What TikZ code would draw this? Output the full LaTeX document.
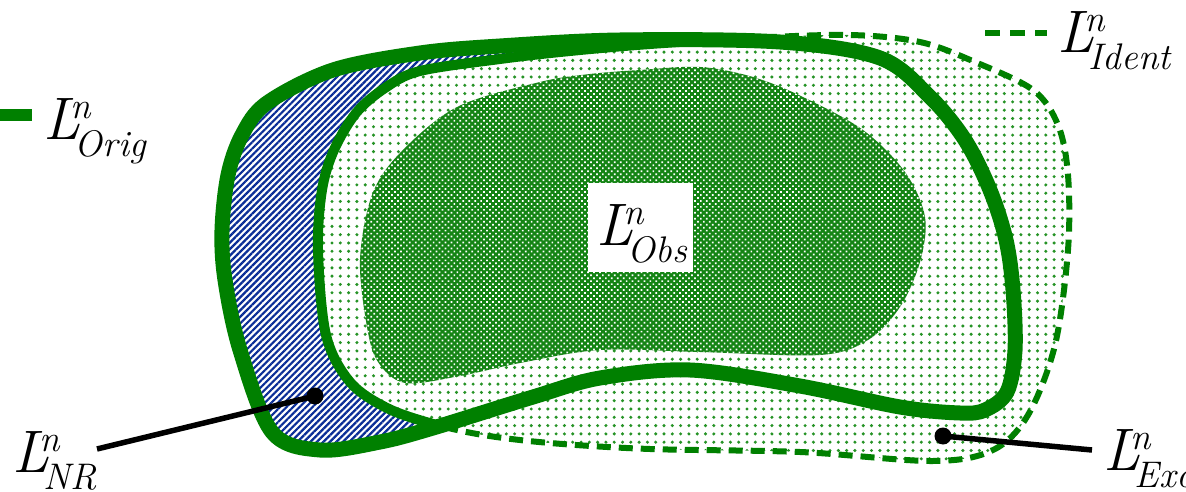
\documentclass[tikz,border=0pt]{standalone}
\usetikzlibrary{patterns.meta}
\definecolor{dgreen}{RGB}{0,128,0}
\definecolor{hblue}{RGB}{10,45,150}
\definecolor{obsgreen}{RGB}{20,132,20}
\newcommand\Lsym[1]{{\fontsize{60}{60}\selectfont\itshape L\kern-5pt\rlap{\hspace{-4pt}\raisebox{21pt}{\fontsize{37}{37}\selectfont n}}\raisebox{-17pt}{\fontsize{37}{37}\selectfont #1}}}
\def\origpath{plot[smooth cycle, tension=0.55] coordinates {(267,103) (333,70) (420,53) (500,46) (620,40) (780,42) (880,58) (930,97) (965,140) (990,190) (1006,240) (1013,290) (1015,350) (1007,392) (985,410) (960,413) (900,407) (800,386) (690,370) (600,378) (533,397) (433,428) (380,442) (320,450) (272,432) (240,350) (225,280) (222,230) (228,175) (242,135)}}
\def\identpath{plot[smooth cycle, tension=0.55] coordinates {(420,71) (500,59) (570,51) (650,44) (750,38) (850,35) (920,42) (975,62) (1033,90) (1058,125) (1068,175) (1068,250) (1055,345) (1028,415) (993,450) (933,461) (800,452) (650,449) (550,443) (483,435) (433,424) (387,408) (350,382) (326,335) (318,250) (322,190) (334,150) (356,113) (385,88)}}
\def\obspath{plot[smooth cycle, tension=0.55] coordinates {(640,70) (700,67) (753,77) (803,97) (863,130) (905,172) (925,217) (920,262) (900,307) (868,340) (820,355) (700,352) (600,350) (520,363) (460,376) (405,383) (378,362) (367,327) (360,260) (372,195) (400,153) (457,107) (540,82) (590,74)}}
\tikzset{
  origline/.style={draw=dgreen, line width=15pt},
  identsolid/.style={draw=dgreen, line width=10pt},
  identdash/.style={draw=dgreen, line width=6pt, dash pattern=on 14pt off 8pt},
  hatchfill/.style={pattern={Lines[angle=45,distance=4.6pt,line width=2.2pt]}, pattern color=hblue},
  lightdots/.style={pattern={Dots[radius=1.7pt,distance=8.3pt]}, pattern color=dgreen!85},
  obsdots/.style={pattern={Dots[radius=1.2pt,distance=4.2pt,angle=45]}, pattern color=white},
  leader/.style={draw=black, line width=5.5pt},
  blackdot/.style={circle, fill=black, minimum size=17pt, inner sep=0pt},
  lab/.style={anchor=base west, inner sep=0pt, text=black},
}
\begin{document}
\begin{tikzpicture}[x=1pt,y=-1pt]
\useasboundingbox (0,0) rectangle (1186,492);
% NR hatch inside Orig
\path[hatchfill] \origpath;
% Ident region
\path[fill=white] \identpath;
\path[lightdots] \identpath;
\path[identdash] \identpath;
% Obs region
\path[fill=obsgreen] \obspath;
\path[obsdots] \obspath;
% solid part of Ident inside Orig
\begin{scope}
  \clip \origpath;
  \path[identsolid] \identpath;
\end{scope}
% Orig boundary
\path[origline] \origpath;
% Obs label
\node[fill=white, minimum width=105pt, minimum height=89pt, inner sep=0pt] (obsbox) at (640.5,227.5) {};
\node[lab] (obs) at (596,245) {\Lsym{Obs}};
% legends
\coordinate (origa) at (0,115);
\coordinate (origb) at (32,115);
\draw[dgreen, line width=12pt] (origa) -- (origb);
\node[lab] (orig) at (43,140) {\Lsym{Orig}};
\coordinate (identa) at (985,33);
\coordinate (identb) at (1047,33);
\draw[dgreen, line width=6pt, dash pattern=on 15pt off 10pt] (identa) -- (identb);
\node[lab] (ident) at (1057,53) {\Lsym{Ident}};
% NR leader
\node[blackdot] (nrdot) at (315,396) {};
\coordinate (nrend) at (97,449);
\draw[leader] (nrend) -- (nrdot.center);
\node[lab] (nr) at (12,472) {\Lsym{NR}};
% Exc leader
\node[blackdot] (excdot) at (943,436) {};
\coordinate (excend) at (1092,450);
\draw[leader] (excdot.center) -- (excend);
\node[lab] (exc) at (1103,470) {\Lsym{Exc}};
\end{tikzpicture}
\end{document}
